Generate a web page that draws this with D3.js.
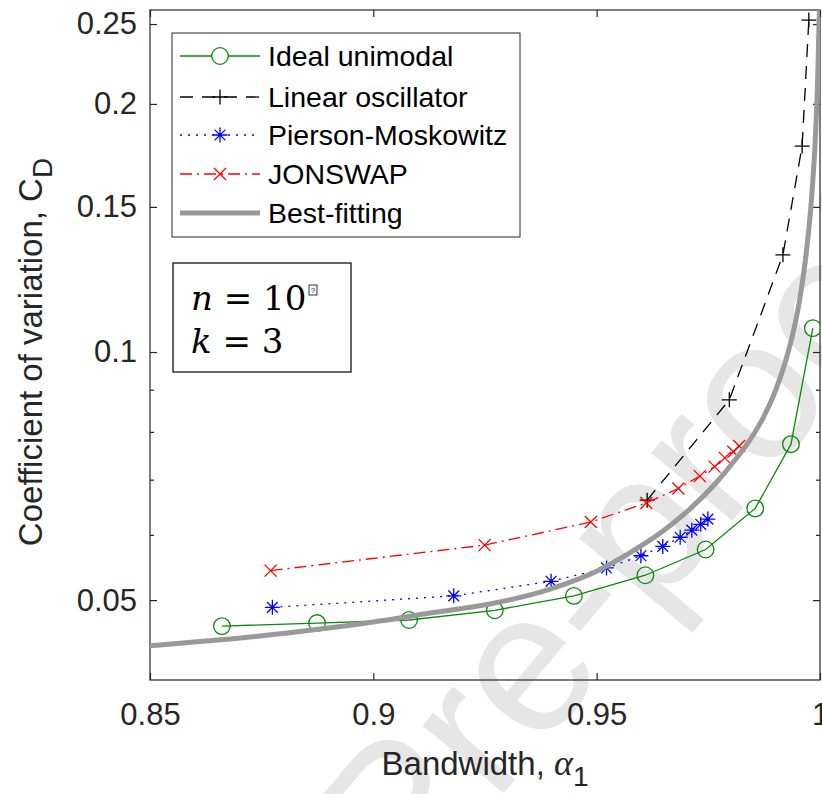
<!DOCTYPE html>
<html>
<head>
<meta charset="utf-8">
<script src="https://cdn.jsdelivr.net/npm/d3@7"></script>
<style>
  body { margin: 0; background: #fff; }
</style>
</head>
<body>
<div id="chart"></div>
<script>
// values (bandwidth alpha_1 vs coefficient of variation C_D)
var idealX = [0.8661, 0.8874, 0.9080, 0.9272, 0.9449, 0.9609, 0.9744, 0.9855, 0.9935, 0.9984];
var idealY = [0.0465, 0.0469, 0.0473, 0.0486, 0.0506, 0.0536, 0.0576, 0.0646, 0.0773, 0.1069];

var linX = [0.9613, 0.9797, 0.9917, 0.9960, 0.9975];
var linY = [0.0661, 0.0875, 0.1312, 0.1778, 0.2528];

var pmX = [0.8774, 0.9180, 0.9398, 0.9522, 0.9599, 0.9648, 0.9687, 0.9713, 0.9733, 0.9749];
var pmY = [0.0490, 0.0506, 0.0527, 0.0547, 0.0566, 0.0581, 0.0596, 0.0608, 0.0618, 0.0627];

var jsX = [0.8770, 0.9249, 0.9487, 0.9611, 0.9683, 0.9731, 0.9764, 0.9787, 0.9806, 0.9819];
var jsY = [0.0543, 0.0583, 0.0622, 0.0656, 0.0683, 0.0707, 0.0726, 0.0744, 0.0757, 0.0769];

// best-fitting curve, sampled along the grey line
var fitX = [0.8500, 0.8612, 0.8746, 0.8881, 0.9000, 0.9127, 0.9261, 0.9396, 0.9501, 0.9575, 0.96485, 0.9709,
            0.97649, 0.98097, 0.98433, 0.98724, 0.98993, 0.99216, 0.99396, 0.99552, 0.99687, 0.99799, 0.99888,
            0.99944, 0.99978, 0.99991];
var fitY = [0.0440, 0.04454, 0.04523, 0.04612, 0.04703, 0.04823, 0.04946, 0.05157, 0.05424, 0.05710, 0.06065, 0.06451,
            0.06916, 0.07396, 0.07822, 0.08316, 0.08944, 0.09698, 0.10546, 0.11631, 0.13118, 0.15083, 0.17834,
            0.21089, 0.24934, 0.26367];

var seriesNames = ['Ideal unimodal', 'Linear oscillator', 'Pierson-Moskowitz', 'JONSWAP', 'Best-fitting'];

var xTicks = [0.85, 0.9, 0.95, 1];
var yTicks = [0.05, 0.1, 0.15, 0.2, 0.25];
var yMinor = [0.06, 0.07, 0.08, 0.09];

var width = 822, height = 794;
var padL = 150, padT = 10, plotW = 670, plotH = 670;
var axisColor = '#262626';
var font = '"Liberation Sans", Arial, Helvetica, sans-serif';
var serif = '"DejaVu Serif", "Liberation Serif", serif';

var x = d3.scaleLinear().domain([0.85, 1]).range([padL, padL + plotW]);
var y = d3.scaleLog().domain([0.04, 0.26]).range([padT + plotH, padT]);

var svg = d3.select('#chart')
  .append('svg')
  .attr('width', width)
  .attr('height', height)
  .style('font-family', font);

svg.append('rect').attr('width', width).attr('height', height).attr('fill', '#fff');

// watermark
svg.append('text')
  .attr('transform', 'translate(409,906) rotate(-50)')
  .attr('font-size', 200)
  .attr('fill', '#e6e6e6')
  .text('Pre-proof');

// axes
function styleAxis(g, fs) {
  g.select('.domain').remove();
  g.selectAll('.tick line').attr('stroke', axisColor).attr('stroke-width', 1.2);
  g.selectAll('.tick text').attr('fill', axisColor).attr('font-size', fs).attr('font-family', font);
}

var fmt = d3.format('');

svg.append('g')
  .attr('transform', 'translate(0,' + (padT + plotH) + ')')
  .call(d3.axisBottom(x).tickValues(xTicks).tickSize(-7).tickPadding(23).tickFormat(fmt))
  .call(styleAxis, 31);

svg.append('g')
  .attr('transform', 'translate(0,' + padT + ')')
  .call(d3.axisTop(x).tickValues(xTicks).tickSize(-7).tickFormat(''))
  .call(styleAxis, 31);

svg.append('g')
  .attr('transform', 'translate(' + padL + ',0)')
  .call(d3.axisLeft(y).tickValues(yTicks).tickSize(-7).tickPadding(13).tickFormat(fmt))
  .call(styleAxis, 31);

svg.append('g')
  .attr('transform', 'translate(' + padL + ',0)')
  .call(d3.axisLeft(y).tickValues(yMinor).tickSize(-4).tickFormat(''))
  .call(styleAxis, 31);

svg.append('g')
  .attr('transform', 'translate(' + (padL + plotW) + ',0)')
  .call(d3.axisRight(y).tickValues(yTicks).tickSize(-7).tickFormat(''))
  .call(styleAxis, 31);

svg.append('g')
  .attr('transform', 'translate(' + (padL + plotW) + ',0)')
  .call(d3.axisRight(y).tickValues(yMinor).tickSize(-4).tickFormat(''))
  .call(styleAxis, 31);

svg.append('rect')
  .attr('x', padL).attr('y', padT)
  .attr('width', plotW).attr('height', plotH)
  .attr('fill', 'none')
  .attr('stroke', axisColor)
  .attr('stroke-width', 1.2);

// clip
svg.append('clipPath').attr('id', 'clip')
  .append('rect').attr('x', padL).attr('y', padT).attr('width', plotW).attr('height', plotH);

var plot = svg.append('g').attr('clip-path', 'url(#clip)');

function pts(xs, ys) {
  return xs.map(function(d, i) { return [d, ys[i]]; });
}

var line = d3.line()
  .x(function(d) { return x(d[0]); })
  .y(function(d) { return y(d[1]); });

// marker shapes
function markerPath(type, s) {
  if (type === 'plus') return 'M' + (-s) + ',0H' + s + 'M0,' + (-s) + 'V' + s;
  if (type === 'cross') return 'M' + (-s) + ',' + (-s) + 'L' + s + ',' + s + 'M' + (-s) + ',' + s + 'L' + s + ',' + (-s);
  if (type === 'star') {
    var a = s * 0.72;
    return 'M' + (-s) + ',0H' + s + 'M0,' + (-s) + 'V' + s +
      'M' + (-a) + ',' + (-a) + 'L' + a + ',' + a + 'M' + (-a) + ',' + a + 'L' + a + ',' + (-a);
  }
  return '';
}

var series = [
  { data: pts(idealX, idealY), color: '#0a8a0a', dash: null, marker: 'circle', size: 8.3 },
  { data: pts(linX, linY), color: '#000000', dash: '13,9', marker: 'plus', size: 7.5 },
  { data: pts(pmX, pmY), color: '#0000ff', dash: '2,6', marker: 'star', size: 7.5 },
  { data: pts(jsX, jsY), color: '#ff0000', dash: '12,5,2,5', marker: 'cross', size: 6 }
];

series.forEach(function(s) {
  plot.append('path')
    .datum(s.data)
    .attr('d', line)
    .attr('fill', 'none')
    .attr('stroke', s.color)
    .attr('stroke-width', 1.3)
    .attr('stroke-dasharray', s.dash);

  var m = plot.selectAll(null).data(s.data).enter();
  if (s.marker === 'circle') {
    m.append('circle')
      .attr('cx', function(d) { return x(d[0]); })
      .attr('cy', function(d) { return y(d[1]); })
      .attr('r', s.size)
      .attr('fill', 'none')
      .attr('stroke', s.color)
      .attr('stroke-width', 1.3);
  } else {
    m.append('path')
      .attr('transform', function(d) { return 'translate(' + x(d[0]) + ',' + y(d[1]) + ')'; })
      .attr('d', markerPath(s.marker, s.size))
      .attr('fill', 'none')
      .attr('stroke', s.color)
      .attr('stroke-width', 1.3);
  }
});

// best-fitting curve on top
plot.append('path')
  .datum(pts(fitX, fitY))
  .attr('d', line.curve(d3.curveMonotoneX))
  .attr('fill', 'none')
  .attr('stroke', '#999999')
  .attr('stroke-width', 5);

// legend
var legend = svg.append('g');
legend.append('rect')
  .attr('x', 172).attr('y', 33)
  .attr('width', 348).attr('height', 204)
  .attr('fill', '#fff')
  .attr('stroke', axisColor)
  .attr('stroke-width', 1);

var rowY = [56, 97, 135, 174, 213];
series.concat([{ color: '#999999', dash: null, marker: null, width: 5 }]).forEach(function(s, i) {
  var ly = rowY[i];
  legend.append('line')
    .attr('x1', 180).attr('x2', 260)
    .attr('y1', ly).attr('y2', ly)
    .attr('stroke', s.color)
    .attr('stroke-width', s.width || 1.3)
    .attr('stroke-dasharray', s.dash);
  if (s.marker === 'circle') {
    legend.append('circle').attr('cx', 220).attr('cy', ly).attr('r', s.size)
      .attr('fill', '#fff').attr('stroke', s.color).attr('stroke-width', 1.3);
  } else if (s.marker) {
    legend.append('path').attr('transform', 'translate(220,' + ly + ')')
      .attr('d', markerPath(s.marker, s.size))
      .attr('fill', 'none').attr('stroke', s.color).attr('stroke-width', 1.3);
  }
  legend.append('text')
    .attr('x', 268).attr('y', ly + 10)
    .attr('font-size', 28.5)
    .attr('fill', '#000')
    .text(seriesNames[i]);
});

// annotation box
var note = svg.append('g');
note.append('rect')
  .attr('x', 173).attr('y', 263)
  .attr('width', 178).attr('height', 109)
  .attr('fill', '#fff')
  .attr('stroke', '#000')
  .attr('stroke-width', 1.2);

var t1 = note.append('text').attr('x', 191).attr('y', 310)
  .attr('font-family', serif).attr('font-size', 34).attr('fill', '#000');
t1.append('tspan').attr('font-style', 'italic').text('n');
t1.append('tspan').text(' = 10');
note.append('rect')
  .attr('x', 309).attr('y', 285).attr('width', 8).attr('height', 10)
  .attr('fill', '#fff').attr('stroke', '#000').attr('stroke-width', 0.8);
note.append('text').attr('x', 313).attr('y', 293)
  .attr('text-anchor', 'middle').attr('font-size', 8).attr('fill', '#000').text('?');

var t2 = note.append('text').attr('x', 191).attr('y', 353)
  .attr('font-family', serif).attr('font-size', 34).attr('fill', '#000');
t2.append('tspan').attr('font-style', 'italic').text('k');
t2.append('tspan').text(' = 3');

// axis labels
var xl = svg.append('text')
  .attr('x', padL + plotW / 2).attr('y', 775)
  .attr('text-anchor', 'middle')
  .attr('font-size', 33)
  .attr('fill', axisColor);
xl.append('tspan').text('Bandwidth, ');
xl.append('tspan').attr('font-family', '"Liberation Serif", serif').attr('font-style', 'italic')
  .attr('font-size', 36).text('\u03b1');
xl.append('tspan').attr('dy', 11).attr('font-size', 28).text('1');

var yl = svg.append('text')
  .attr('transform', 'translate(42,352) rotate(-90)')
  .attr('text-anchor', 'middle')
  .attr('font-size', 33)
  .attr('fill', axisColor);
yl.append('tspan').text('Coefficient of variation, C');
yl.append('tspan').attr('dy', 10).attr('font-size', 28).text('D');
</script>
</body>
</html>
